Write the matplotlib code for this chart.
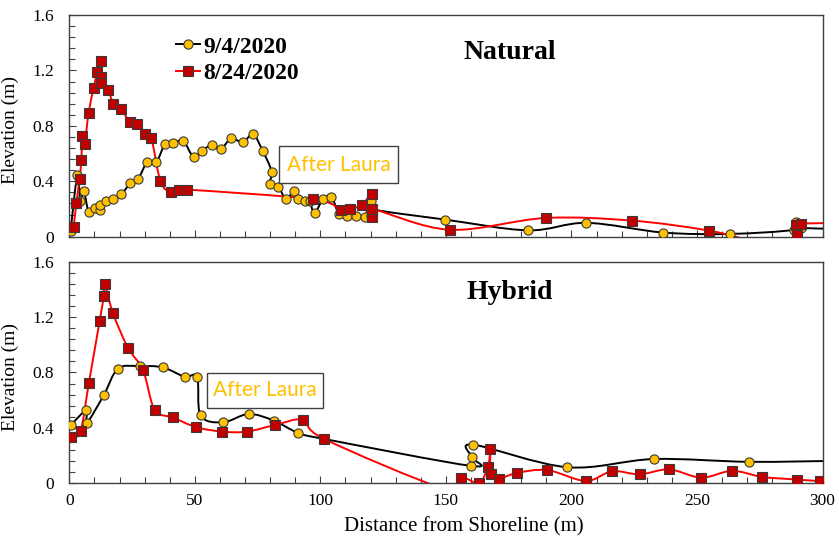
import numpy as np
import matplotlib
matplotlib.use("Agg")
import matplotlib.pyplot as plt
from matplotlib.path import Path
from matplotlib.patches import PathPatch, Rectangle
from matplotlib.lines import Line2D
from matplotlib.ticker import MultipleLocator

# ---------------- data ----------------
nat_sep_x = [0.5, 3.2, 4.4, 5.8, 7.7, 10.1, 12.4, 12.4, 14.5, 17.6, 20.7, 24.3, 27.5, 31.1, 34.7,
             38.1, 41.4, 45.4, 49.5, 52.7, 56.8, 60.3, 64.5, 69.1, 73.2, 77.0, 80.6, 79.8, 83.3,
             86.3, 89.4, 91.0, 94.0, 95.7, 97.7, 101.0, 104.4, 107.3, 110.6, 114.3, 117.6, 120.3,
             120.3, 120.3, 149.5, 182.7, 206.0, 236.5, 263.0, 288.6, 289.6, 291.5, 310.0]
nat_sep_y = [0.04, 0.446, 0.26, 0.33, 0.18, 0.21, 0.19, 0.23, 0.26, 0.27, 0.305, 0.385, 0.42, 0.54, 0.54,
             0.667, 0.676, 0.69, 0.575, 0.62, 0.66, 0.63, 0.71, 0.68, 0.74, 0.62, 0.47, 0.38, 0.36,
             0.27, 0.33, 0.27, 0.26, 0.257, 0.17, 0.27, 0.29, 0.165, 0.15, 0.15, 0.14, 0.15,
             0.257, 0.2, 0.124, 0.046, 0.1, 0.03, 0.02, 0.05, 0.104, 0.065, 0.056]

nat_aug_x = [1.7, 2.8, 4.1, 4.8, 5.2, 6.1, 7.7, 9.7, 11.2, 12.7, 12.7, 12.7, 15.4, 17.6, 20.7, 24.0,
             27.1, 30.3, 32.7, 36.3, 40.4, 43.7, 47.0, 97.1, 108.4, 111.7, 116.6, 120.6, 120.6, 120.6,
             151.5, 189.7, 224.2, 254.8, 278.0, 289.9, 289.6, 291.3, 310.0]
nat_aug_y = [0.068, 0.24, 0.42, 0.555, 0.73, 0.67, 0.895, 1.074, 1.19, 1.268, 1.154, 1.11, 1.06, 0.96,
             0.92, 0.83, 0.81, 0.74, 0.71, 0.40, 0.32, 0.335, 0.34, 0.27, 0.19, 0.2, 0.228, 0.31, 0.143,
             0.2, 0.05, 0.135, 0.116, 0.044, -0.05, 0.01, 0.087, 0.095, 0.1]

hyb_sep_x = [0.8, 6.8, 7.0, 13.7, 19.4, 28.0, 37.3, 45.9, 50.9, 52.3, 61.2, 71.4, 81.4, 91.1, 101.5,
             159.9, 160.2, 160.8, 198.4, 232.8, 270.6, 305.0]
hyb_sep_y = [0.424, 0.527, 0.436, 0.635, 0.827, 0.846, 0.836, 0.769, 0.766, 0.49, 0.44, 0.50, 0.453,
             0.364, 0.32, 0.126, 0.189, 0.279, 0.116, 0.175, 0.155, 0.162]

hyb_aug_x = [0.8, 4.5, 7.8, 12.1, 13.7, 14.1, 17.4, 23.4, 29.4, 34.0, 41.3, 50.6, 61.0, 70.8, 81.8,
             93.1, 101.5, 149.5, 156.2, 163.1, 166.8, 167.7, 167.8, 171.2, 178.3, 190.4, 205.7, 216.2,
             227.2, 238.9, 251.8, 264.0, 276.0, 289.9, 299.2]
hyb_aug_y = [0.332, 0.378, 0.725, 1.173, 1.35, 1.44, 1.227, 0.977, 0.815, 0.531, 0.475, 0.405, 0.373,
             0.373, 0.42, 0.458, 0.32, -0.04, 0.041, 0.002, 0.119, 0.245, 0.065, 0.034, 0.075, 0.095,
             0.017, 0.087, 0.065, 0.1, 0.041, 0.09, 0.046, 0.027, 0.015]

series_labels = ["9/4/2020", "8/24/2020"]
panel_titles = ["Natural", "Hybrid"]
annot_text = "After Laura"
ytick_vals = [0, 0.4, 0.8, 1.2, 1.6]
ytick_labels = ["0", "0.4", "0.8", "1.2", "1.6"]
xtick_vals = [0, 50, 100, 150, 200, 250, 300]
xtick_labels = ["0", "50", "100", "150", "200", "250", "300"]
xlabel = "Distance from Shoreline (m)"
ylabel = "Elevation (m)"

# ---------------- style ----------------
SERIF = "Liberation Serif"
YEL = "#FFC000"
DRED = "#C00000"
RED = "#FF0000"
EDGE = "#3a3a3a"
SPINE = "#404040"
MS = 6.6
LW = 1.4


def smooth_path(x, y):
    pts = np.column_stack([x, y]).astype(float)
    n = len(pts)
    verts = [pts[0]]
    codes = [Path.MOVETO]
    for i in range(n - 1):
        p0 = pts[i - 1] if i > 0 else pts[i]
        p1 = pts[i]
        p2 = pts[i + 1]
        p3 = pts[i + 2] if i + 2 < n else pts[i + 1]
        c1 = p1 + (p2 - p0) / 6.0
        c2 = p2 - (p3 - p1) / 6.0
        verts += [c1, c2, p2]
        codes += [Path.CURVE4] * 3
    return Path(verts, codes)


W, H = 839, 539
fig = plt.figure(figsize=(W / 100, H / 100), dpi=100)

left = 69.3 / W
width = 753.2 / W
hgt = 221.7 / H
ax1 = fig.add_axes([left, 1 - 236.7 / H, width, hgt])
ax2 = fig.add_axes([left, 1 - 483.3 / H, width, hgt])


def draw(ax, sx, sy, ax_, ay_):
    ax.add_patch(PathPatch(smooth_path(sx, sy), facecolor="none", edgecolor="black",
                           lw=LW, zorder=2))
    ax.add_patch(PathPatch(smooth_path(ax_, ay_), facecolor="none", edgecolor=RED,
                           lw=LW, zorder=2.1))
    ax.plot(sx, sy, ls="none", marker="o", ms=MS, mfc=YEL, mec=EDGE, mew=0.8, zorder=3)
    ax.plot(ax_, ay_, ls="none", marker="s", ms=MS, mfc=DRED, mec=EDGE, mew=0.8, zorder=3.1)


draw(ax1, nat_sep_x, nat_sep_y, nat_aug_x, nat_aug_y)
draw(ax2, hyb_sep_x, hyb_sep_y, hyb_aug_x, hyb_aug_y)

for ax in (ax1, ax2):
    ax.set_xlim(0, 300)
    ax.set_ylim(0, 1.6)
    ax.set_yticks(ytick_vals)
    ax.set_yticklabels(ytick_labels, fontfamily=SERIF, fontsize=12.5)
    ax.set_xticks(xtick_vals)
    ax.xaxis.set_minor_locator(MultipleLocator(10))
    ax.yaxis.set_minor_locator(MultipleLocator(0.08))
    ax.tick_params(axis="both", which="both", direction="in", color=SPINE, width=0.8)
    ax.tick_params(axis="both", which="major", length=5)
    ax.tick_params(axis="both", which="minor", length=4)
    ax.tick_params(axis="y", which="major", pad=11)
    ax.tick_params(axis="x", which="major", pad=7)
    for s in ax.spines.values():
        s.set_color(SPINE)
        s.set_linewidth(1.0)
    ax.set_ylabel(ylabel, fontfamily=SERIF, fontsize=14)
    ax.yaxis.set_label_coords(-0.0674, 0.48)

ax1.set_xticklabels([])
ax2.set_xticklabels(xtick_labels, fontfamily=SERIF, fontsize=12.5)
ax2.set_xlabel(xlabel, fontfamily=SERIF, fontsize=15)
ax2.xaxis.set_label_coords(0.524, -0.198)
ax2.xaxis.label.set_va("center")

# panel titles
ax1.text(0.585, 0.829, panel_titles[0], transform=ax1.transAxes, ha="center", va="center",
         fontfamily=SERIF, fontweight="bold", fontsize=20)
ax2.text(0.585, 0.859, panel_titles[1], transform=ax2.transAxes, ha="center", va="center",
         fontfamily=SERIF, fontweight="bold", fontsize=20)

# "After Laura" boxes
for ax, (x0, x1, y0, y1) in ((ax1, (0.2784, 0.4364, 0.2409, 0.4091)),
                             (ax2, (0.1824, 0.3364, 0.3412, 0.4991))):
    ax.add_patch(Rectangle((x0, y0), x1 - x0, y1 - y0, transform=ax.transAxes,
                           facecolor="white", edgecolor=SPINE, lw=1.0, zorder=5))
    ax.text((x0 + x1) / 2, (y0 + y1) / 2, annot_text, transform=ax.transAxes,
            ha="center", va="center", color=YEL, fontfamily="Lato", fontsize=15, zorder=6)

# legend
handles = [Line2D([], [], color="black", lw=LW, marker="o", ms=MS, mfc=YEL, mec=EDGE, mew=0.8),
           Line2D([], [], color=RED, lw=LW, marker="s", ms=MS, mfc=DRED, mec=EDGE, mew=0.8)]
ax1.legend(handles, series_labels, loc="upper left", bbox_to_anchor=(0.1417, 0.905),
           frameon=False, handlelength=1.0, handletextpad=0.15, labelspacing=0.22,
           borderpad=0, borderaxespad=0,
           prop={"family": SERIF, "weight": "bold", "size": 17})

fig.savefig("out.png", dpi=100)
